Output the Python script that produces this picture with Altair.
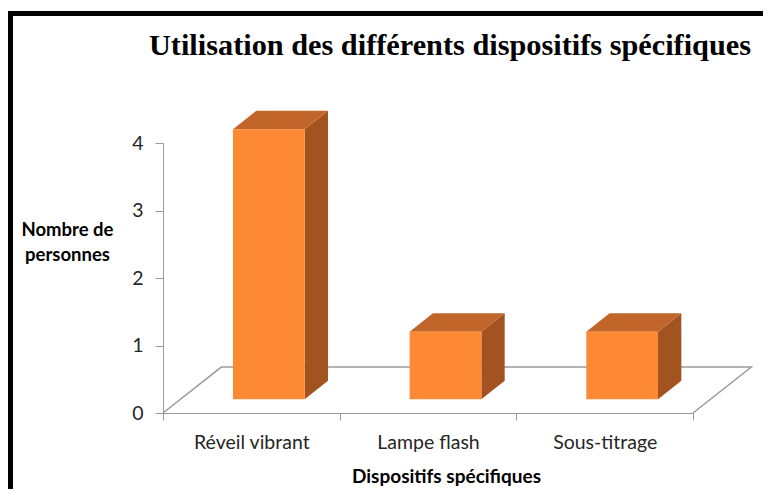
import json
import altair as alt
import pandas as pd

# ---- data ----
categories = ["Réveil vibrant", "Lampe flash", "Sous-titrage"]
values = [4, 1, 1]
y_ticks = [0, 1, 2, 3, 4]
title_text = "Utilisation des différents dispositifs spécifiques"
x_title = "Dispositifs spécifiques"
y_title = ["Nombre de", "personnes"]

# ---- style constants (3D look, in data units) ----
FLOOR_DX = 0.33
FLOOR_DY = 0.68
HALF_W = 0.203
BAR_FRONT = 0.3
BAR_BACK = 0.7

FRONT_C = "#fd8935"
TOP_C = "#c2652b"
SIDE_C = "#a2531f"
GRAY = "#9a9a9a"
FONT = "Lato"

W, H = 530, 270
PAD = {"left": 155, "top": 135, "right": 70, "bottom": 76}
n = len(categories)

front_rows, side_rows, top_rows = [], [], []
ox, oy = BAR_FRONT * FLOOR_DX, BAR_FRONT * FLOOR_DY
dx, dy = (BAR_BACK - BAR_FRONT) * FLOOR_DX, (BAR_BACK - BAR_FRONT) * FLOOR_DY
for i, (c, v) in enumerate(zip(categories, values)):
    l = i + 0.5 - HALF_W + ox
    r = i + 0.5 + HALF_W + ox
    b = oy
    t = v + oy
    front_rows.append(dict(cat=c, x=l, x2=r, y=b, y2=t))
    side_rows += [dict(cat=c, x=r, y=t, y2=b), dict(cat=c, x=r + dx, y=t + dy, y2=b + dy)]
    top_rows += [
        dict(cat=c, x=l, y=t, y2=t),
        dict(cat=c, x=l + dx, y=t + dy, y2=t),
        dict(cat=c, x=r, y=t + dy, y2=t),
        dict(cat=c, x=r + dx, y=t + dy, y2=t + dy),
    ]

floor_rows = [
    dict(o=0, x=0, y=0),
    dict(o=1, x=FLOOR_DX, y=FLOOR_DY),
    dict(o=2, x=n + FLOOR_DX, y=FLOOR_DY),
    dict(o=3, x=n, y=0),
]

xscale = alt.Scale(domain=[0, n], nice=False, zero=False)
yscale = alt.Scale(domain=[min(y_ticks), max(y_ticks)], nice=False, zero=False)

x_values = [k / 2 for k in range(2 * n + 1)]
label_expr = (
    "datum.value % 1 == 0 ? '' : "
    + json.dumps(categories, ensure_ascii=False)
    + "[floor(datum.value)]"
)

x_axis = alt.Axis(
    values=x_values,
    labelExpr=label_expr,
    grid=False,
    domainColor=GRAY,
    tickColor=GRAY,
    tickOpacity={"condition": {"test": "datum.value % 1 != 0", "value": 0}, "value": 1},
    tickSize=7,
    labelFont=FONT,
    labelFontSize=19.5,
    labelColor="#262626",
    labelBaseline="alphabetic",
    labelPadding=28,
    labelOverlap=False,
    labelFlush=False,
    title=x_title,
    titleFont=FONT,
    titleFontSize=19,
    titleFontWeight="bold",
    titleColor="#000000",
    titleBaseline="alphabetic",
    titleAlign="center",
    titleX=283,
    titleY=69,
)

y_axis = alt.Axis(
    values=y_ticks,
    grid=False,
    domainColor=GRAY,
    tickColor=GRAY,
    tickSize=8,
    labelFont=FONT,
    labelFontSize=19.5,
    labelColor="#262626",
    labelPadding=12,
    title=y_title,
    titleFont=FONT,
    titleFontSize=18.5,
    titleFontWeight="bold",
    titleColor="#000000",
    titleAngle=0,
    titleAlign="center",
    titleBaseline="alphabetic",
    titleLineHeight=25,
    titleX=-96,
    titleY=92,
)

X = lambda f: alt.X(f, scale=xscale, axis=x_axis)
Y = lambda f: alt.Y(f, scale=yscale, axis=y_axis)

floor = alt.Chart(pd.DataFrame(floor_rows)).mark_line(
    color=GRAY, strokeWidth=1.5
).encode(x=X("x:Q"), y=Y("y:Q"), order="o:O")

side = alt.Chart(pd.DataFrame(side_rows)).mark_area(color=SIDE_C, opacity=1).encode(
    x=X("x:Q"), y=Y("y:Q"), y2="y2:Q", detail="cat:N"
)

top = alt.Chart(pd.DataFrame(top_rows)).mark_area(color=TOP_C, opacity=1).encode(
    x=X("x:Q"), y=Y("y:Q"), y2="y2:Q", detail="cat:N"
)

front = alt.Chart(pd.DataFrame(front_rows)).mark_rect(color=FRONT_C).encode(
    x=X("x:Q"), x2="x2:Q", y=Y("y:Q"), y2="y2:Q"
)

title = alt.Chart(pd.DataFrame({"t": [title_text]})).mark_text(
    font="Liberation Serif",
    fontSize=30.3,
    fontWeight="bold",
    color="#000000",
    align="center",
    baseline="alphabetic",
).encode(text="t:N", x=alt.value(287), y=alt.value(-88))

one = pd.DataFrame({"k": [0]})
border_left = alt.Chart(one).mark_rule(color="#000000", strokeWidth=5).encode(
    x=alt.value(-152.5), y=alt.value(-132), y2=alt.value(H + PAD["bottom"] + 10)
)
border_top = alt.Chart(one).mark_rule(color="#000000", strokeWidth=5).encode(
    x=alt.value(-155), x2=alt.value(W + PAD["right"] + 10), y=alt.value(-129.5)
)

chart = (
    alt.layer(floor, side, top, front, title, border_left, border_top)
    .properties(
        width=W,
        height=H,
        autosize=alt.AutoSizeParams(type="none"),
        padding=PAD,
        background="white",
    )
    .configure_view(stroke=None)
)

chart.save("out.html", embed_options={"renderer": "svg", "actions": False})
